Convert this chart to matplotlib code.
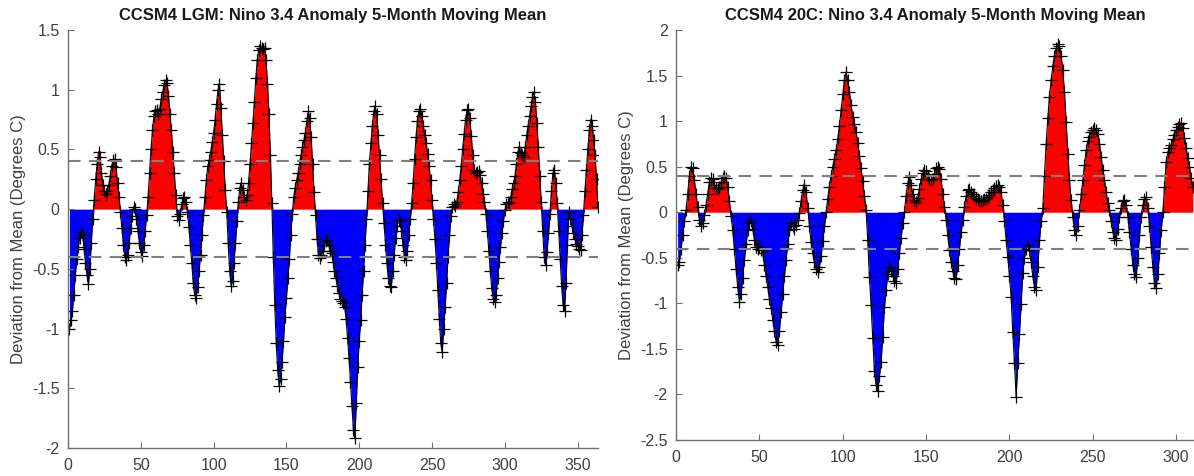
import numpy as np
import matplotlib
matplotlib.use("Agg")
import matplotlib.pyplot as plt
from matplotlib.ticker import FormatStrFormatter

plt.rcParams['font.family'] = ['Liberation Sans', 'DejaVu Sans']
plt.rcParams['axes.unicode_minus'] = False

# Nino 3.4 anomaly, 5-month moving mean (degrees C), one value per month
lgm_anom = [
    -1.00, -0.93, -0.85, -0.72, -0.55, -0.42, -0.32, -0.24, -0.19, -0.22,
    -0.33, -0.45, -0.55, -0.63, -0.50, -0.28, -0.08, 0.08, 0.25, 0.38,
    0.48, 0.44, 0.30, 0.20, 0.15, 0.13, 0.15, 0.20, 0.28, 0.36,
    0.41, 0.42, 0.35, 0.22, 0.10, -0.02, -0.16, -0.30, -0.40, -0.43,
    -0.38, -0.28, -0.16, -0.06, 0.02, 0.00, -0.08, -0.18, -0.28, -0.36,
    -0.39, -0.30, -0.18, -0.05, 0.10, 0.30, 0.50, 0.66, 0.78, 0.82,
    0.83, 0.80, 0.84, 0.92, 0.98, 1.04, 1.08, 1.06, 0.95, 0.80,
    0.66, 0.48, 0.30, 0.12, -0.06, -0.09, -0.04, 0.04, 0.09, 0.10,
    0.06, -0.02, -0.15, -0.30, -0.45, -0.62, -0.72, -0.74, -0.65, -0.52,
    -0.38, -0.22, -0.05, 0.10, 0.24, 0.36, 0.41, 0.48, 0.56, 0.64,
    0.75, 0.88, 1.00, 1.05, 0.85, 0.62, 0.40, 0.16, -0.02, -0.28,
    -0.52, -0.64, -0.60, -0.45, -0.28, -0.10, 0.06, 0.18, 0.22, 0.16,
    0.10, 0.08, 0.12, 0.22, 0.38, 0.55, 0.72, 0.90, 1.10, 1.25,
    1.33, 1.37, 1.35, 1.34, 1.35, 1.25, 1.05, 0.80, 0.45, 0.05,
    -0.40, -0.80, -1.12, -1.35, -1.48, -1.42, -1.28, -1.10, -0.90, -0.74,
    -0.58, -0.42, -0.22, -0.04, 0.10, 0.18, 0.24, 0.30, 0.38, 0.45,
    0.52, 0.58, 0.64, 0.74, 0.82, 0.76, 0.60, 0.38, 0.14, -0.05,
    -0.25, -0.38, -0.41, -0.38, -0.35, -0.30, -0.27, -0.26, -0.30, -0.35,
    -0.37, -0.44, -0.52, -0.58, -0.64, -0.70, -0.75, -0.77, -0.79, -0.82,
    -0.92, -1.08, -1.25, -1.45, -1.65, -1.85, -1.92, -1.62, -1.32, -1.10,
    -0.93, -0.72, -0.52, -0.30, -0.08, 0.15, 0.38, 0.55, 0.70, 0.82,
    0.86, 0.80, 0.62, 0.45, 0.25, 0.05, -0.12, -0.30, -0.45, -0.58,
    -0.64, -0.65, -0.52, -0.38, -0.24, -0.14, -0.09, -0.10, -0.18, -0.30,
    -0.40, -0.43, -0.35, -0.22, -0.08, 0.05, 0.22, 0.42, 0.60, 0.74,
    0.82, 0.84, 0.78, 0.70, 0.62, 0.55, 0.46, 0.36, 0.24, 0.08,
    -0.08, -0.25, -0.45, -0.68, -0.92, -1.12, -1.20, -1.00, -0.82, -0.62,
    -0.40, -0.22, -0.06, 0.02, 0.04, 0.03, 0.06, 0.14, 0.24, 0.36,
    0.50, 0.63, 0.75, 0.83, 0.84, 0.76, 0.61, 0.45, 0.33, 0.30,
    0.31, 0.32, 0.29, 0.22, 0.13, 0.06, -0.04, -0.18, -0.35, -0.52,
    -0.66, -0.75, -0.78, -0.72, -0.58, -0.44, -0.32, -0.20, -0.10, -0.01,
    0.04, 0.06, 0.05, 0.10, 0.17, 0.22, 0.28, 0.38, 0.48, 0.52,
    0.47, 0.45, 0.44, 0.52, 0.62, 0.70, 0.78, 0.86, 0.94, 0.98,
    0.90, 0.72, 0.52, 0.28, 0.06, -0.18, -0.40, -0.47, -0.36, -0.20,
    -0.04, 0.15, 0.30, 0.33, 0.22, 0.05, -0.18, -0.42, -0.64, -0.80,
    -0.85, -0.62, -0.30, -0.02, -0.08, -0.14, -0.20, -0.25, -0.29, -0.31,
    -0.33, -0.34, -0.22, -0.05, 0.15, 0.33, 0.50, 0.66, 0.75, 0.70,
    0.58, 0.45, 0.25, 0.02,
]

c20_anom = [
    -0.58, -0.55, -0.40, -0.25, -0.10, 0.02, 0.20, 0.40, 0.50, 0.48,
    0.35, 0.20, 0.06, -0.08, -0.15, -0.12, -0.03, 0.08, 0.20, 0.33,
    0.38, 0.36, 0.30, 0.27, 0.26, 0.28, 0.33, 0.38, 0.40, 0.38,
    0.28, 0.12, -0.04, -0.20, -0.40, -0.62, -0.82, -0.98, -0.90, -0.72,
    -0.52, -0.35, -0.20, -0.12, -0.10, -0.18, -0.30, -0.38, -0.40, -0.38,
    -0.41, -0.45, -0.58, -0.70, -0.82, -0.95, -1.05, -1.18, -1.30, -1.42,
    -1.46, -1.30, -1.10, -0.90, -0.70, -0.52, -0.35, -0.20, -0.12, -0.15,
    -0.18, -0.14, -0.08, -0.01, 0.12, 0.24, 0.30, 0.22, 0.05, -0.15,
    -0.33, -0.45, -0.55, -0.62, -0.66, -0.60, -0.48, -0.32, -0.15, 0.00,
    0.15, 0.28, 0.40, 0.50, 0.58, 0.68, 0.80, 0.95, 1.12, 1.30,
    1.45, 1.54, 1.45, 1.32, 1.18, 1.05, 0.97, 0.88, 0.76, 0.62,
    0.48, 0.34, 0.18, 0.02, -0.31, -0.71, -1.02, -1.38, -1.74, -1.90,
    -1.96, -1.80, -1.64, -1.37, -1.04, -0.85, -0.68, -0.60, -0.64, -0.70,
    -0.75, -0.78, -0.62, -0.45, -0.28, -0.12, 0.00, 0.18, 0.32, 0.39,
    0.30, 0.20, 0.13, 0.11, 0.16, 0.26, 0.36, 0.43, 0.46, 0.45,
    0.40, 0.36, 0.35, 0.37, 0.42, 0.48, 0.50, 0.47, 0.36, 0.20,
    0.06, -0.08, -0.25, -0.42, -0.55, -0.65, -0.72, -0.73, -0.58, -0.40,
    -0.22, -0.08, 0.06, 0.18, 0.24, 0.25, 0.22, 0.20, 0.18, 0.16,
    0.14, 0.13, 0.12, 0.13, 0.14, 0.15, 0.17, 0.19, 0.22, 0.24,
    0.27, 0.29, 0.30, 0.28, 0.22, 0.08, -0.10, -0.30, -0.49, -0.70,
    -0.93, -1.32, -1.65, -2.03, -1.66, -1.34, -1.01, -0.67, -0.50, -0.40,
    -0.36, -0.42, -0.55, -0.70, -0.82, -0.85, -0.60, -0.31, -0.10, 0.05,
    0.40, 0.75, 1.03, 1.27, 1.45, 1.60, 1.72, 1.80, 1.85, 1.82,
    1.72, 1.56, 1.32, 0.99, 0.64, 0.35, 0.13, -0.05, -0.20, -0.25,
    -0.15, 0.02, 0.20, 0.35, 0.52, 0.68, 0.78, 0.83, 0.88, 0.90,
    0.92, 0.90, 0.86, 0.75, 0.61, 0.46, 0.35, 0.22, 0.10, 0.02,
    -0.10, -0.22, -0.28, -0.30, -0.18, -0.05, 0.05, 0.12, 0.13, 0.08,
    -0.05, -0.22, -0.40, -0.58, -0.68, -0.71, -0.50, -0.25, -0.05, 0.08,
    0.15, 0.17, 0.05, -0.15, -0.38, -0.60, -0.78, -0.83, -0.68, -0.45,
    -0.20, 0.00, 0.28, 0.55, 0.66, 0.71, 0.74, 0.80, 0.85, 0.90,
    0.94, 0.97, 0.98, 0.92, 0.82, 0.70, 0.60, 0.50, 0.38, 0.28,
]

thresh = 0.4

panels = [
    dict(vals=lgm_anom, title='CCSM4 LGM: Nino 3.4 Anomaly 5-Month Moving Mean',
         rect=[68 / 1194, 28 / 476, 530 / 1194, 418 / 476],
         xlim=(0, 364), xticks=np.arange(0, 351, 50),
         ylim=(-2, 1.5), yticks=np.arange(-2, 1.51, 0.5)),
    dict(vals=c20_anom, title='CCSM4 20C: Nino 3.4 Anomaly 5-Month Moving Mean',
         rect=[676 / 1194, 36 / 476, 518 / 1194, 410 / 476],
         xlim=(0, 310.7), xticks=np.arange(0, 301, 50),
         ylim=(-2.5, 2), yticks=np.arange(-2.5, 2.01, 0.5)),
]

fig = plt.figure(figsize=(11.94, 4.76), dpi=100)

for p in panels:
    y = np.array(p['vals'])
    x = np.arange(1, len(y) + 1)
    ax = fig.add_axes(p['rect'])

    ax.fill_between(x, 0, np.maximum(y, 0), color='#ff0000', linewidth=0)
    ax.fill_between(x, 0, np.minimum(y, 0), color='#0000ff', linewidth=0)
    ax.plot(x, y, color='black', linewidth=0.8, marker='+',
            markersize=8, markeredgewidth=0.9)
    for level in (thresh, -thresh):
        ax.axhline(level, color='#7f7f7f', linestyle=(0, (6, 4)), linewidth=1.5)

    ax.set_xlim(*p['xlim'])
    ax.set_ylim(*p['ylim'])
    ax.set_xticks(p['xticks'])
    ax.set_yticks(p['yticks'])
    ax.yaxis.set_major_formatter(FormatStrFormatter('%g'))
    ax.xaxis.set_major_formatter(FormatStrFormatter('%g'))

    for side in ('top', 'right'):
        ax.spines[side].set_visible(False)
    for side in ('left', 'bottom'):
        ax.spines[side].set_color('#707070')
        ax.spines[side].set_linewidth(1.0)
    ax.tick_params(direction='in', length=4, color='#707070',
                   labelsize=11.5, labelcolor='#404040')
    ax.tick_params(axis='x', pad=7)
    ax.tick_params(axis='y', pad=6)

    ax.set_title(p['title'], fontsize=12, fontweight='bold', color='#1a1a1a', pad=7)
    ax.set_ylabel('Deviation from Mean (Degrees C)', fontsize=12, color='#404040')

fig.savefig('out.png', dpi=100, facecolor='white')
